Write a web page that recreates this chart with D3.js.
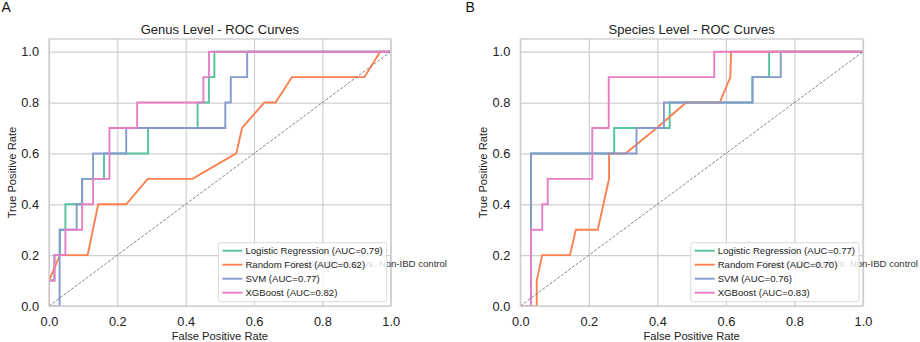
<!DOCTYPE html>
<html>
<head>
<meta charset="utf-8">
<script src="https://cdn.jsdelivr.net/npm/d3@7"></script>
<style>
  body { margin: 0; background: #fff; }
  svg { font-family: "Liberation Sans", Arial, Helvetica, sans-serif; }
</style>
</head>
<body>
<svg id="chart" width="920" height="342"></svg>
<script>
// ---------------- data ----------------
const models = ["Logistic Regression", "Random Forest", "SVM", "XGBoost"];
const colors = ["#55c29c", "#fc8050", "#8599cc", "#e77ec5"];
const ticks = [0, 0.2, 0.4, 0.6, 0.8, 1.0];

const genusAuc = [0.79, 0.62, 0.77, 0.82];
const speciesAuc = [0.77, 0.70, 0.76, 0.83];

// genus level
const genusLrFpr  = [0, 0, 0.016, 0.016, 0.032, 0.032, 0.048, 0.048, 0.097, 0.097, 0.161, 0.161, 0.29, 0.29, 0.435, 0.435, 0.468, 0.468, 0.484, 0.484, 1];
const genusLrTpr  = [0, 0.1, 0.1, 0.2, 0.2, 0.3, 0.3, 0.4, 0.4, 0.5, 0.5, 0.6, 0.6, 0.7, 0.7, 0.8, 0.8, 0.9, 0.9, 1, 1];
const genusRfFpr  = [0, 0, 0.032, 0.113, 0.144, 0.226, 0.289, 0.42, 0.548, 0.565, 0.63, 0.663, 0.711, 0.923, 0.969, 1];
const genusRfTpr  = [0, 0.1, 0.2, 0.2, 0.4, 0.4, 0.5, 0.5, 0.6, 0.7, 0.8, 0.8, 0.9, 0.9, 1, 1];
const genusSvmFpr = [0, 0.031, 0.031, 0.081, 0.081, 0.097, 0.097, 0.129, 0.129, 0.226, 0.226, 0.516, 0.516, 0.532, 0.532, 0.58, 0.58, 1];
const genusSvmTpr = [0, 0, 0.3, 0.3, 0.4, 0.4, 0.5, 0.5, 0.6, 0.6, 0.7, 0.7, 0.8, 0.8, 0.9, 0.9, 1, 1];
const genusXgbFpr = [0, 0, 0.016, 0.016, 0.048, 0.048, 0.097, 0.097, 0.129, 0.129, 0.177, 0.177, 0.258, 0.258, 0.452, 0.452, 0.468, 0.468, 1];
const genusXgbTpr = [0, 0.1, 0.1, 0.2, 0.2, 0.3, 0.3, 0.4, 0.4, 0.5, 0.5, 0.7, 0.7, 0.8, 0.8, 0.9, 0.9, 1, 1];

// species level
const speciesLrFpr  = [0, 0.031, 0.031, 0.274, 0.274, 0.436, 0.436, 0.677, 0.677, 0.726, 0.726, 1];
const speciesLrTpr  = [0, 0, 0.6, 0.6, 0.7, 0.7, 0.8, 0.8, 0.9, 0.9, 1, 1];
const speciesRfFpr  = [0, 0.048, 0.048, 0.064, 0.145, 0.162, 0.226, 0.259, 0.259, 0.307, 0.398, 0.484, 0.582, 0.613, 0.615, 1];
const speciesRfTpr  = [0, 0, 0.1, 0.2, 0.2, 0.3, 0.3, 0.5, 0.6, 0.6, 0.7, 0.8, 0.8, 0.9, 1, 1];
const speciesSvmFpr = [0, 0.031, 0.031, 0.339, 0.339, 0.419, 0.419, 0.678, 0.678, 0.76, 0.76, 1];
const speciesSvmTpr = [0, 0, 0.6, 0.6, 0.7, 0.7, 0.8, 0.8, 0.9, 0.9, 1, 1];
const speciesXgbFpr = [0, 0.031, 0.031, 0.064, 0.064, 0.08, 0.08, 0.21, 0.21, 0.258, 0.258, 0.566, 0.566, 1];
const speciesXgbTpr = [0, 0, 0.3, 0.3, 0.4, 0.4, 0.5, 0.5, 0.7, 0.7, 0.9, 0.9, 1, 1];

const zip = (f, t) => f.map((d, i) => [d, t[i]]);

const genusCurves = [
    zip(genusLrFpr, genusLrTpr), zip(genusRfFpr, genusRfTpr),
    zip(genusSvmFpr, genusSvmTpr), zip(genusXgbFpr, genusXgbTpr)
];
const speciesCurves = [
    zip(speciesLrFpr, speciesLrTpr), zip(speciesRfFpr, speciesRfTpr),
    zip(speciesSvmFpr, speciesSvmTpr), zip(speciesXgbFpr, speciesXgbTpr)
];

const svg = d3.select("#chart");
const gridColor = "#cfcfcf";

function rocPanel(opts) {
    const { left, right, top, bottom, title, letter, letterX, yLabelX, curves, aucs, id, noteX, note } = opts;

    const x = d3.scaleLinear().domain([0, 1]).range([left, right]);
    const y = d3.scaleLinear().domain([0, 1.05]).range([bottom, top]);

    const g = svg.append("g");

    g.append("clipPath").attr("id", id)
        .append("rect")
        .attr("x", left).attr("y", top)
        .attr("width", right - left).attr("height", bottom - top);

    // grid lines
    g.append("g")
        .attr("transform", `translate(0,${bottom})`)
        .call(d3.axisBottom(x).tickValues(ticks).tickSize(-(bottom - top)).tickFormat(""))
        .call(s => s.select(".domain").remove())
        .selectAll("line").attr("stroke", gridColor).attr("stroke-width", 1.2);

    g.append("g")
        .attr("transform", `translate(${left},0)`)
        .call(d3.axisLeft(y).tickValues(ticks).tickSize(-(right - left)).tickFormat(""))
        .call(s => s.select(".domain").remove())
        .selectAll("line").attr("stroke", gridColor).attr("stroke-width", 1.2);

    // tick labels
    g.append("g")
        .attr("transform", `translate(0,${bottom})`)
        .call(d3.axisBottom(x).tickValues(ticks).tickSize(0).tickPadding(11).tickFormat(d3.format(".1f")))
        .call(s => s.select(".domain").remove())
        .selectAll("text")
        .attr("fill", "#222")
        .style("font-size", "12.8px")
        .style("font-family", "Liberation Sans, Arial, sans-serif");

    g.append("g")
        .attr("transform", `translate(${left},0)`)
        .call(d3.axisLeft(y).tickValues(ticks).tickSize(0).tickPadding(10).tickFormat(d3.format(".1f")))
        .call(s => s.select(".domain").remove())
        .selectAll("text")
        .attr("fill", "#222")
        .style("font-size", "12.8px")
        .style("font-family", "Liberation Sans, Arial, sans-serif");

    // curves
    const line = d3.line().x(d => x(d[0])).y(d => y(d[1]));
    const curveG = g.append("g").attr("clip-path", `url(#${id})`);
    curves.forEach((c, i) => {
        curveG.append("path")
            .datum(c)
            .attr("d", line)
            .attr("fill", "none")
            .attr("stroke", colors[i])
            .attr("stroke-width", 1.9)
            .attr("stroke-linejoin", "miter");
    });

    // chance line
    curveG.append("path")
        .datum([[0, 0], [1, 1]])
        .attr("d", line)
        .attr("fill", "none")
        .attr("stroke", "#666")
        .attr("stroke-width", 0.8)
        .attr("stroke-dasharray", "3,1.6");

    // frame
    g.append("rect")
        .attr("x", left).attr("y", top)
        .attr("width", right - left).attr("height", bottom - top)
        .attr("fill", "none")
        .attr("stroke", gridColor)
        .attr("stroke-width", 1.4);

    // title and labels
    g.append("text")
        .attr("x", (left + right) / 2).attr("y", 34)
        .attr("text-anchor", "middle")
        .style("font-size", "13px")
        .attr("fill", "#222")
        .text(title);

    g.append("text")
        .attr("x", (left + right) / 2).attr("y", 339.5)
        .attr("text-anchor", "middle")
        .style("font-size", "11.2px")
        .attr("fill", "#222")
        .text("False Positive Rate");

    g.append("text")
        .attr("transform", `translate(${yLabelX},${(top + bottom) / 2}) rotate(-90)`)
        .attr("text-anchor", "middle")
        .style("font-size", "11.2px")
        .attr("fill", "#222")
        .text("True Positive Rate");

    g.append("text")
        .attr("x", letterX).attr("y", 12)
        .style("font-size", "14px")
        .attr("fill", "#111")
        .text(letter);

    // stray note text sitting behind the legend
    g.append("text")
        .attr("x", noteX).attr("y", 267)
        .attr("text-anchor", "end")
        .style("font-size", "9.6px")
        .attr("fill", "#333")
        .text(note);

    // legend
    const rowY = [250.7, 264.7, 278.7, 292.7];
    const leg = g.append("g");
    const box = leg.append("rect")
        .attr("fill", "#fff")
        .attr("fill-opacity", 0.82)
        .attr("stroke", "#d8d8d8")
        .attr("stroke-width", 1)
        .attr("rx", 2.5);
    const labels = leg.selectAll(".lbl")
        .data(models)
        .join("text")
        .attr("class", "lbl")
        .style("font-size", "9.6px")
        .attr("fill", "#222")
        .attr("dy", "0.35em")
        .text((d, i) => `${d} (AUC=${aucs[i].toFixed(2)})`);
    const maxW = d3.max(labels.nodes(), n => n.getComputedTextLength());
    const legRight = right - 4;
    const textX = legRight - 4 - maxW;
    const legLeft = textX - 27;
    labels.attr("x", textX).attr("y", (d, i) => rowY[i]);
    leg.selectAll(".swatch")
        .data(models)
        .join("line")
        .attr("class", "swatch")
        .attr("x1", legLeft + 4).attr("x2", legLeft + 24)
        .attr("y1", (d, i) => rowY[i]).attr("y2", (d, i) => rowY[i])
        .attr("stroke", (d, i) => colors[i])
        .attr("stroke-width", 1.9);
    box.attr("x", legLeft).attr("y", 242.7)
        .attr("width", legRight - legLeft).attr("height", 59);
}

rocPanel({
    id: "clipA", left: 49, right: 390.7, top: 39, bottom: 306,
    title: "Genus Level - ROC Curves", letter: "A", letterX: 1.5, yLabelX: 15.5,
    curves: genusCurves, aucs: genusAuc,
    noteX: 447, note: "Crohn's Disease vs. Non-IBD control"
});

rocPanel({
    id: "clipB", left: 520.3, right: 863, top: 39, bottom: 306,
    title: "Species Level - ROC Curves", letter: "B", letterX: 465.5, yLabelX: 487,
    curves: speciesCurves, aucs: speciesAuc,
    noteX: 918, note: "Crohn's Disease vs. Non-IBD control"
});
</script>
</body>
</html>
